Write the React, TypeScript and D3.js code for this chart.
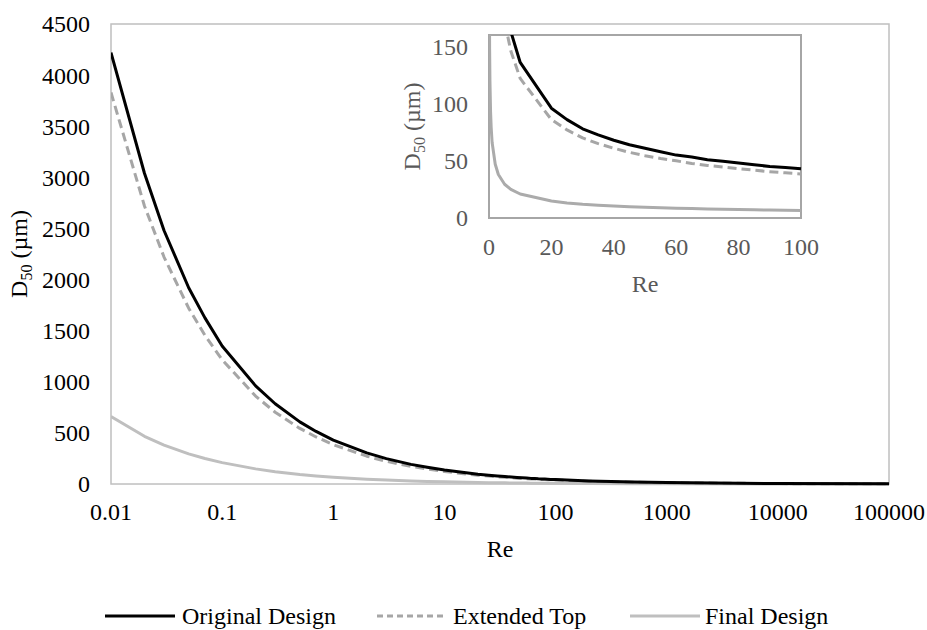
import React from "react";
import * as d3 from "d3";

// Reynolds numbers at which D50 was evaluated
const reValues = [
  0.01, 0.02, 0.03, 0.05, 0.07, 0.1, 0.2, 0.3, 0.5, 0.7, 1, 2, 3, 5, 7, 10,
  20, 25, 30, 35, 40, 45, 50, 55, 60, 65, 70, 75, 80, 85, 90, 95, 100, 200,
  500, 1000, 10000, 100000,
];

// D50 (µm) for each design
const originalDesign = [
  4220, 3040, 2480, 1920, 1625, 1350, 960, 785, 608, 514, 430, 304, 248, 192,
  163, 136, 96, 86, 78, 72.7, 68, 64, 61, 58, 55, 53.3, 51, 49.7, 48, 46.6,
  45, 44.1, 43, 30.4, 19.2, 13.6, 4.3, 1.36,
];
const extendedTop = [
  3830, 2720, 2220, 1720, 1455, 1215, 860, 702, 544, 460, 385, 272, 222, 172,
  146, 122, 86, 77, 70, 65, 61, 57.4, 54.5, 52, 50, 47.7, 46, 44.5, 43, 41.8,
  40.5, 39.5, 38.5, 27.2, 17.2, 12.2, 3.85, 1.22,
];
const finalDesign = [
  660, 467, 381, 295, 249, 209, 148, 120, 93, 79, 66, 47, 38, 29.5, 25, 21,
  14.8, 13.2, 12, 11.2, 10.4, 9.8, 9.3, 8.9, 8.5, 8.2, 7.9, 7.6, 7.4, 7.2, 7,
  6.8, 6.6, 4.7, 2.95, 2.1, 0.66, 0.21,
];

const mainXTicks = [0.01, 0.1, 1, 10, 100, 1000, 10000, 100000];
const mainYTicks = [0, 500, 1000, 1500, 2000, 2500, 3000, 3500, 4000, 4500];
const insetXTicks = [0, 20, 40, 60, 80, 100];
const insetYTicks = [0, 50, 100, 150];

const seriesNames = ["Original Design", "Extended Top", "Final Design"];

const FONT = "'Liberation Serif', 'Times New Roman', serif";
const FS = 24;

type Pt = { re: number; d: number };

const toPoints = (vals: number[]): Pt[] =>
  reValues.map((re, i) => ({ re, d: vals[i] }));

const seriesData = [
  toPoints(originalDesign),
  toPoints(extendedTop),
  toPoints(finalDesign),
];

const styles = [
  { stroke: "#000000", width: 3, dash: undefined as string | undefined },
  { stroke: "#a6a6a6", width: 3, dash: "9,5" },
  { stroke: "#bfbfbf", width: 3, dash: undefined as string | undefined },
];
const insetStyles = [
  { stroke: "#000000", width: 3, dash: undefined as string | undefined },
  { stroke: "#a6a6a6", width: 3, dash: "9,5" },
  { stroke: "#ababab", width: 3, dash: undefined as string | undefined },
];

function D50Label({ x, y, color }: { x: number; y: number; color: string }) {
  return (
    <text
      transform={`translate(${x},${y}) rotate(-90)`}
      textAnchor="middle"
      fontFamily={FONT}
      fontSize={FS}
      fill={color}
    >
      D
      <tspan fontSize={16} dy={5}>
        50
      </tspan>
      <tspan dy={-5}> (µm)</tspan>
    </text>
  );
}

export default function App() {
  const W = 927;
  const H = 630;

  // main plot
  const x = d3.scaleLog().domain([0.01, 100000]).range([111, 889]);
  const y = d3.scaleLinear().domain([0, 4500]).range([484, 24]);
  const line = d3
    .line<Pt>()
    .x((p) => x(p.re))
    .y((p) => y(p.d));

  // inset plot
  const ix = d3.scaleLinear().domain([0, 100]).range([489, 801]);
  const iy = d3.scaleLinear().domain([0, 160]).range([218, 35]);
  const iline = d3
    .line<Pt>()
    .x((p) => ix(p.re))
    .y((p) => iy(p.d));

  const [x0, x1] = x.range();
  const [y0, y1] = y.range();
  const [ix0, ix1] = ix.range();
  const [iy0, iy1] = iy.range();

  const legendItems = [
    { x0: 105, x1: 175, tx: 182 },
    { x0: 377, x1: 447, tx: 453 },
    { x0: 630, x1: 700, tx: 705 },
  ];
  const legendY = 616;

  return (
    <svg
      width={W}
      height={H}
      style={{ position: "absolute", left: 0, top: 0, background: "#fff" }}
    >
      <defs>
        <clipPath id="mainClip">
          <rect x={x0} y={y1 - 4} width={x1 - x0 + 2} height={y0 - y1 + 6} />
        </clipPath>
        <clipPath id="insetClip">
          <rect x={ix0} y={iy1} width={ix1 - ix0 + 2} height={iy0 - iy1} />
        </clipPath>
      </defs>

      {/* main frame */}
      <rect
        x={x0}
        y={y1}
        width={x1 - x0}
        height={y0 - y1}
        fill="none"
        stroke="#bfbfbf"
        strokeWidth={1.5}
      />

      {/* main y ticks */}
      {mainYTicks.map((t) => (
        <text
          key={t}
          x={90}
          y={y(t)}
          dy="0.35em"
          textAnchor="end"
          fontFamily={FONT}
          fontSize={FS}
          fill="#000"
        >
          {t}
        </text>
      ))}
      {/* main x ticks */}
      {mainXTicks.map((t) => (
        <text
          key={t}
          x={x(t)}
          y={512}
          dy="0.35em"
          textAnchor="middle"
          fontFamily={FONT}
          fontSize={FS}
          fill="#000"
        >
          {String(t)}
        </text>
      ))}
      <text
        x={(x0 + x1) / 2}
        y={549}
        dy="0.35em"
        textAnchor="middle"
        fontFamily={FONT}
        fontSize={FS}
        fill="#000"
      >
        Re
      </text>
      <D50Label x={27} y={(y0 + y1) / 2} color="#000" />

      {/* main series */}
      <g clipPath="url(#mainClip)">
        {[2, 1, 0].map((i) => (
          <path
            key={i}
            d={line(seriesData[i]) || ""}
            fill="none"
            stroke={styles[i].stroke}
            strokeWidth={styles[i].width}
            strokeDasharray={styles[i].dash}
            strokeLinejoin="round"
          />
        ))}
      </g>

      {/* inset */}
      <rect
        x={ix0}
        y={iy1}
        width={ix1 - ix0}
        height={iy0 - iy1}
        fill="#fff"
        stroke="#a6a6a6"
        strokeWidth={2}
      />
      <g clipPath="url(#insetClip)">
        {[2, 1, 0].map((i) => (
          <path
            key={i}
            d={iline(seriesData[i].filter((p) => p.re <= 100)) || ""}
            fill="none"
            stroke={insetStyles[i].stroke}
            strokeWidth={insetStyles[i].width}
            strokeDasharray={insetStyles[i].dash}
            strokeLinejoin="round"
          />
        ))}
      </g>
      {insetYTicks.map((t) => (
        <text
          key={t}
          x={468}
          y={iy(t)}
          dy="0.35em"
          textAnchor="end"
          fontFamily={FONT}
          fontSize={FS}
          fill="#595959"
        >
          {t}
        </text>
      ))}
      {insetXTicks.map((t) => (
        <text
          key={t}
          x={ix(t)}
          y={247}
          dy="0.35em"
          textAnchor="middle"
          fontFamily={FONT}
          fontSize={FS}
          fill="#595959"
        >
          {t}
        </text>
      ))}
      <text
        x={(ix0 + ix1) / 2}
        y={284}
        dy="0.35em"
        textAnchor="middle"
        fontFamily={FONT}
        fontSize={FS}
        fill="#595959"
      >
        Re
      </text>
      <D50Label x={420} y={(iy0 + iy1) / 2} color="#595959" />

      {/* legend */}
      {legendItems.map((it, i) => (
        <g key={i}>
          <line
            x1={it.x0}
            x2={it.x1}
            y1={legendY}
            y2={legendY}
            stroke={styles[i].stroke}
            strokeWidth={styles[i].width}
            strokeDasharray={i === 1 ? "6,4" : undefined}
          />
          <text
            x={it.tx}
            y={legendY}
            dy="0.35em"
            fontFamily={FONT}
            fontSize={FS}
            fill="#000"
          >
            {seriesNames[i]}
          </text>
        </g>
      ))}
    </svg>
  );
}
